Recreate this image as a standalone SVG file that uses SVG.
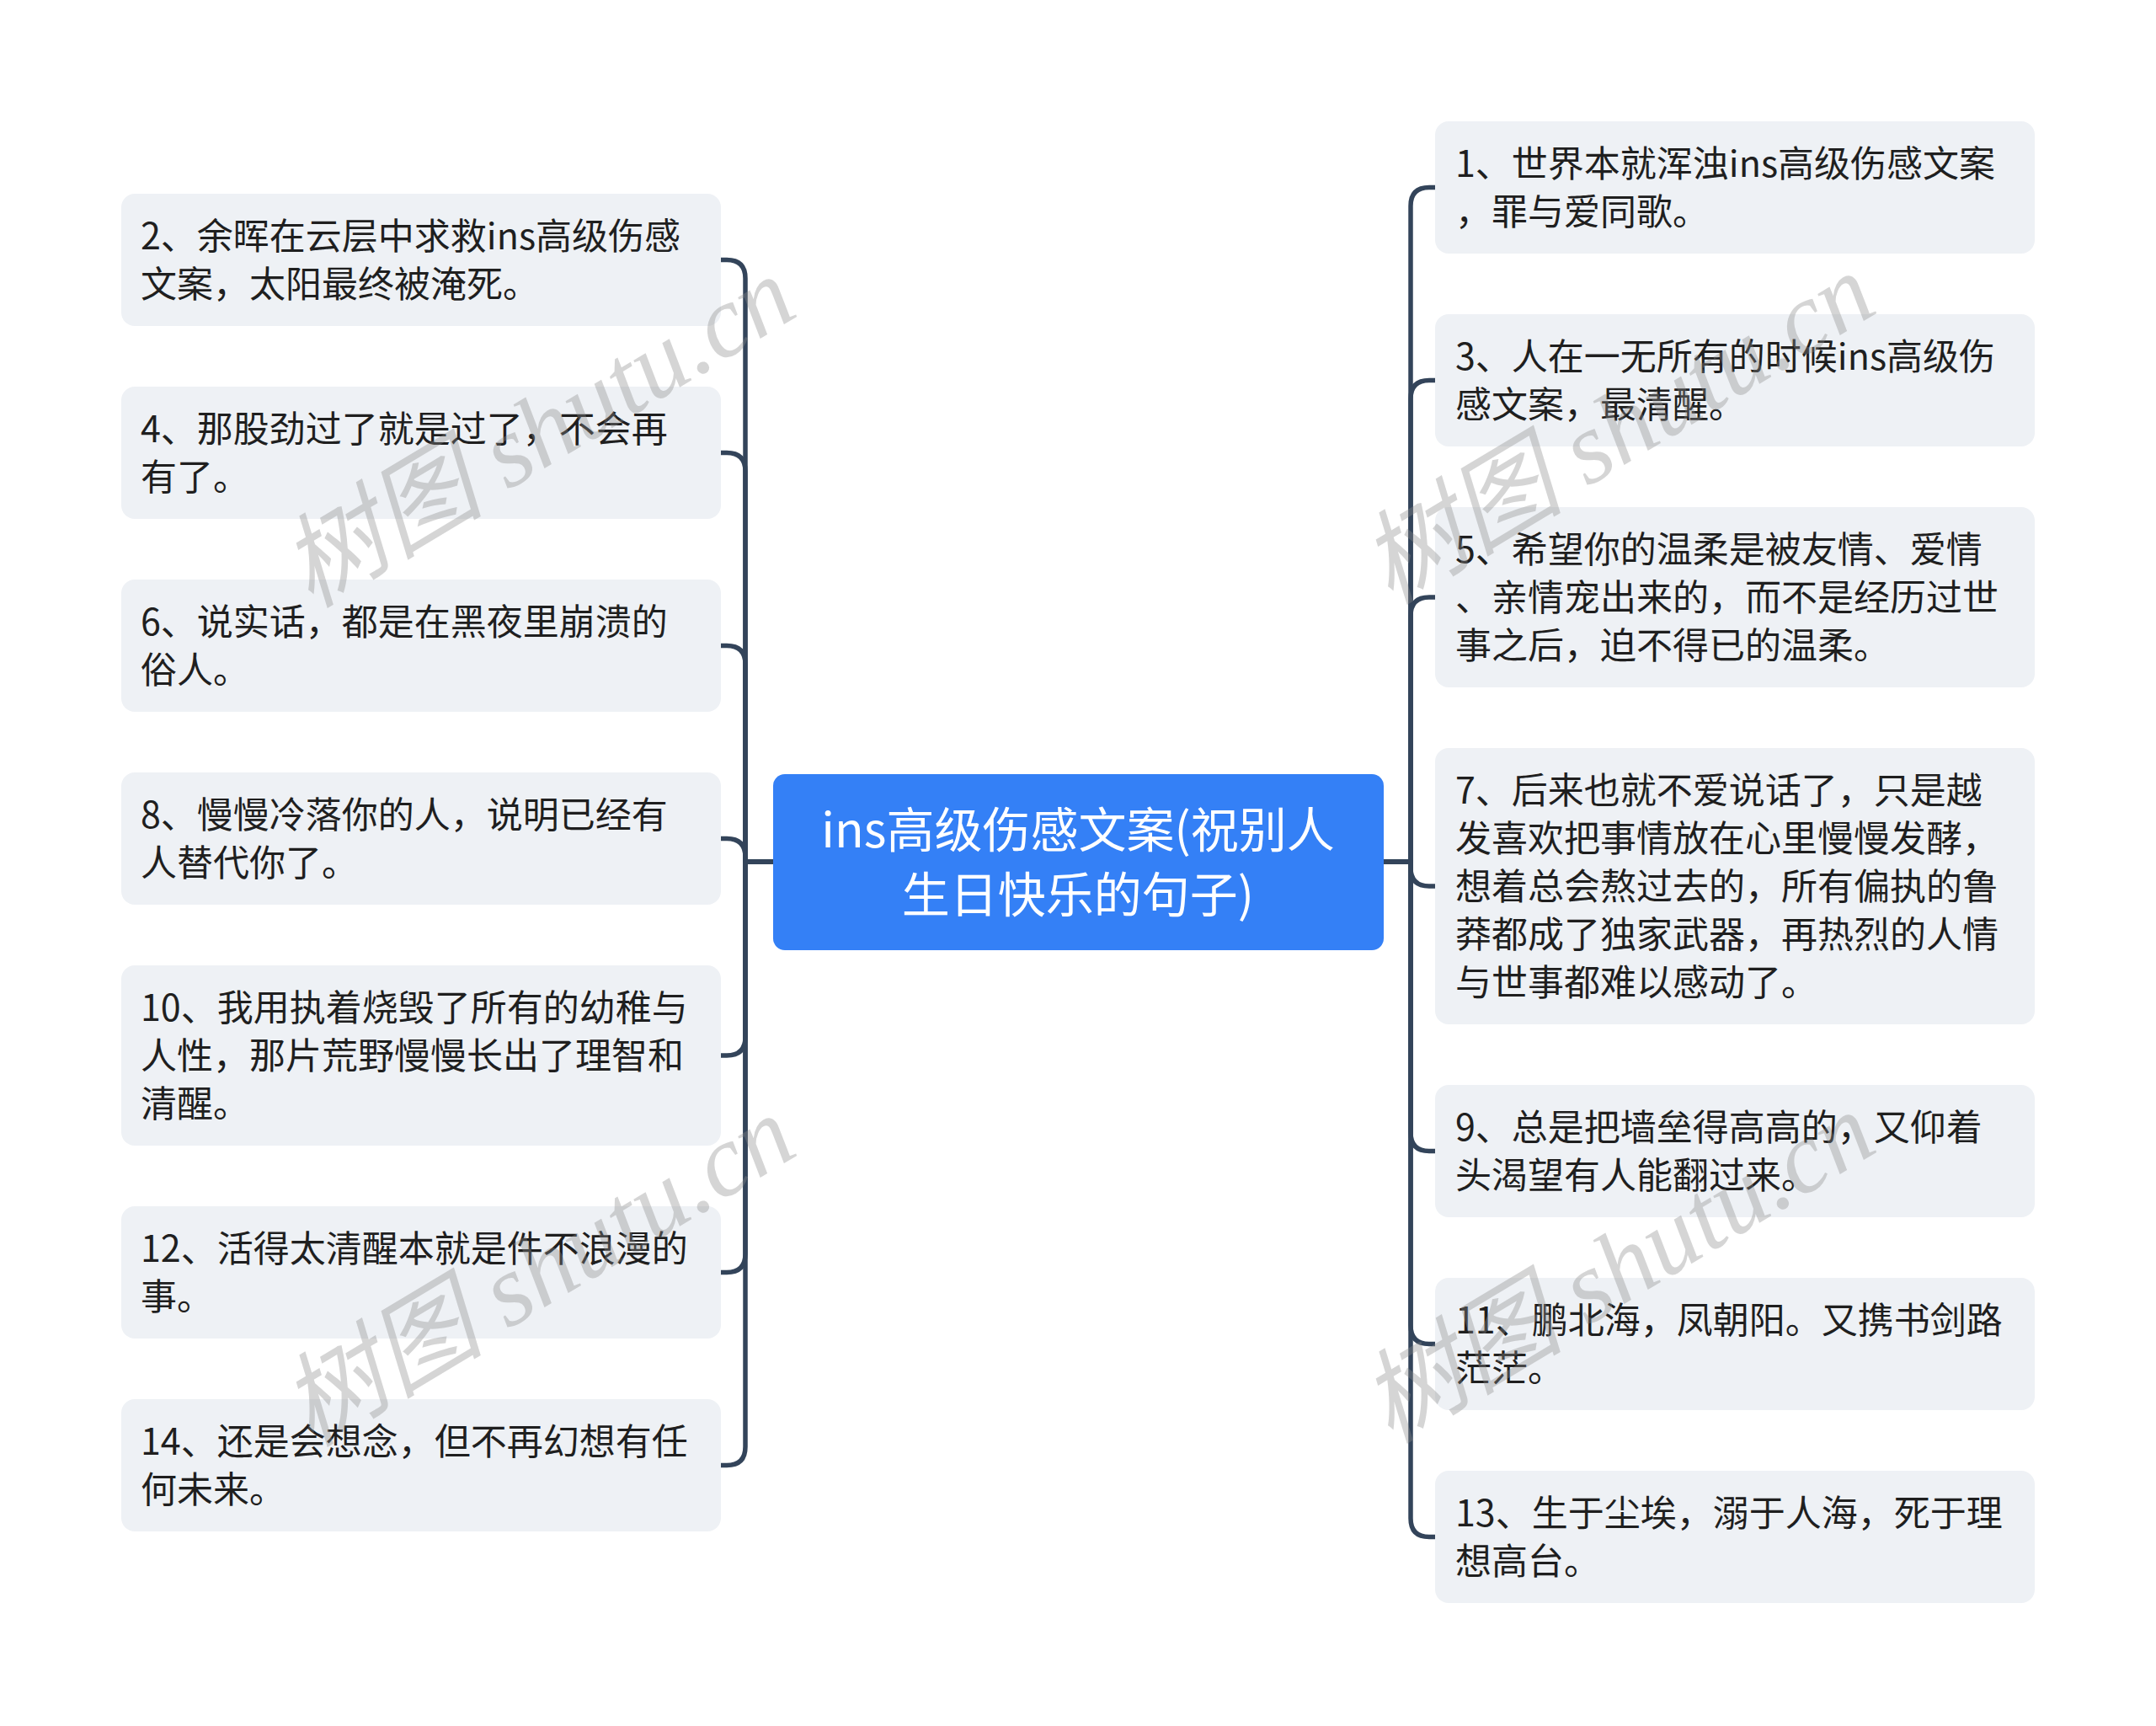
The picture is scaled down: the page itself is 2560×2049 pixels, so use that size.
<svg xmlns="http://www.w3.org/2000/svg" width="2560" height="2049" viewBox="0 0 2560 2049">
<style>
.node rect{fill:#eef1f5;}
.node text{font-family:"Noto Sans CJK SC","Noto Sans",sans-serif;font-size:43px;fill:#1f1f1f;}
.root rect{fill:#3480f6;}
.root text{font-family:"Noto Sans CJK SC","Noto Sans",sans-serif;font-size:57px;fill:#ffffff;text-anchor:middle;}
.conn path{fill:none;stroke:#33445a;stroke-width:5.5;stroke-linecap:round;stroke-linejoin:round;}
.wm text{font-family:"Liberation Serif","Noto Sans CJK SC",serif;font-style:italic;font-size:121px;fill:#8a8a8a;fill-opacity:0.36;text-anchor:middle;}
</style>
<rect width="2560" height="2049" fill="#ffffff"/>
<g id="connectors" class="conn">
<path d="M918,1023 H885 V330.5 Q885,308.5 863,308.5 H856"/>
<path d="M918,1023 H885 V559.5 Q885,537.5 863,537.5 H856"/>
<path d="M918,1023 H885 V788.5 Q885,766.5 863,766.5 H856"/>
<path d="M918,1023 H885 V1017.5 Q885,995.5 863,995.5 H856"/>
<path d="M918,1023 H885 V1231 Q885,1253 863,1253 H856"/>
<path d="M918,1023 H885 V1488.5 Q885,1510.5 863,1510.5 H856"/>
<path d="M918,1023 H885 V1717.5 Q885,1739.5 863,1739.5 H856"/>
<path d="M1643,1023 H1675 V244.5 Q1675,222.5 1697,222.5 H1704"/>
<path d="M1643,1023 H1675 V473.5 Q1675,451.5 1697,451.5 H1704"/>
<path d="M1643,1023 H1675 V731 Q1675,709 1697,709 H1704"/>
<path d="M1643,1023 H1675 V1030 Q1675,1052 1697,1052 H1704"/>
<path d="M1643,1023 H1675 V1344.5 Q1675,1366.5 1697,1366.5 H1704"/>
<path d="M1643,1023 H1675 V1573.5 Q1675,1595.5 1697,1595.5 H1704"/>
<path d="M1643,1023 H1675 V1802.5 Q1675,1824.5 1697,1824.5 H1704"/>
</g>
<g id="root" class="root">
<rect x="918" y="919" width="725" height="209" rx="14"/>
<text x="1280" y="1006">ins高级伤感文案(祝别人</text>
<text x="1280" y="1083">生日快乐的句子)</text>
</g>
<g id="n2" class="node"><rect x="144" y="230" width="712" height="157" rx="16"/>
<text x="167" y="296">2、余晖在云层中求救ins高级伤感</text><text x="167" y="353">文案，太阳最终被淹死。</text></g>
<g id="n4" class="node"><rect x="144" y="459" width="712" height="157" rx="16"/>
<text x="167" y="525">4、那股劲过了就是过了，不会再</text><text x="167" y="582">有了。</text></g>
<g id="n6" class="node"><rect x="144" y="688" width="712" height="157" rx="16"/>
<text x="167" y="754">6、说实话，都是在黑夜里崩溃的</text><text x="167" y="811">俗人。</text></g>
<g id="n8" class="node"><rect x="144" y="917" width="712" height="157" rx="16"/>
<text x="167" y="983">8、慢慢冷落你的人，说明已经有</text><text x="167" y="1040">人替代你了。</text></g>
<g id="n10" class="node"><rect x="144" y="1146" width="712" height="214" rx="16"/>
<text x="167" y="1212">10、我用执着烧毁了所有的幼稚与</text><text x="167" y="1269">人性，那片荒野慢慢长出了理智和</text><text x="167" y="1326">清醒。</text></g>
<g id="n12" class="node"><rect x="144" y="1432" width="712" height="157" rx="16"/>
<text x="167" y="1498">12、活得太清醒本就是件不浪漫的</text><text x="167" y="1555">事。</text></g>
<g id="n14" class="node"><rect x="144" y="1661" width="712" height="157" rx="16"/>
<text x="167" y="1727">14、还是会想念，但不再幻想有任</text><text x="167" y="1784">何未来。</text></g>
<g id="n1" class="node"><rect x="1704" y="144" width="712" height="157" rx="16"/>
<text x="1728" y="210">1、世界本就浑浊ins高级伤感文案</text><text x="1728" y="267">，罪与爱同歌。</text></g>
<g id="n3" class="node"><rect x="1704" y="373" width="712" height="157" rx="16"/>
<text x="1728" y="439">3、人在一无所有的时候ins高级伤</text><text x="1728" y="496">感文案，最清醒。</text></g>
<g id="n5" class="node"><rect x="1704" y="602" width="712" height="214" rx="16"/>
<text x="1728" y="668">5、希望你的温柔是被友情、爱情</text><text x="1728" y="725">、亲情宠出来的，而不是经历过世</text><text x="1728" y="782">事之后，迫不得已的温柔。</text></g>
<g id="n7" class="node"><rect x="1704" y="888" width="712" height="328" rx="16"/>
<text x="1728" y="954">7、后来也就不爱说话了，只是越</text><text x="1728" y="1011">发喜欢把事情放在心里慢慢发酵，</text><text x="1728" y="1068">想着总会熬过去的，所有偏执的鲁</text><text x="1728" y="1125">莽都成了独家武器，再热烈的人情</text><text x="1728" y="1182">与世事都难以感动了。</text></g>
<g id="n9" class="node"><rect x="1704" y="1288" width="712" height="157" rx="16"/>
<text x="1728" y="1354">9、总是把墙垒得高高的，又仰着</text><text x="1728" y="1411">头渴望有人能翻过来。</text></g>
<g id="n11" class="node"><rect x="1704" y="1517" width="712" height="157" rx="16"/>
<text x="1728" y="1583">11、鹏北海，凤朝阳。又携书剑路</text><text x="1728" y="1640">茫茫。</text></g>
<g id="n13" class="node"><rect x="1704" y="1746" width="712" height="157" rx="16"/>
<text x="1728" y="1812">13、生于尘埃，溺于人海，死于理</text><text x="1728" y="1869">想高台。</text></g>
<g id="watermarks" class="wm">
<text transform="translate(660,548) rotate(-31)">树图 shutu.cn</text>
<text transform="translate(660,1544) rotate(-31)">树图 shutu.cn</text>
<text transform="translate(1942,544) rotate(-31)">树图 shutu.cn</text>
<text transform="translate(1942,1540) rotate(-31)">树图 shutu.cn</text>
</g>
</svg>
